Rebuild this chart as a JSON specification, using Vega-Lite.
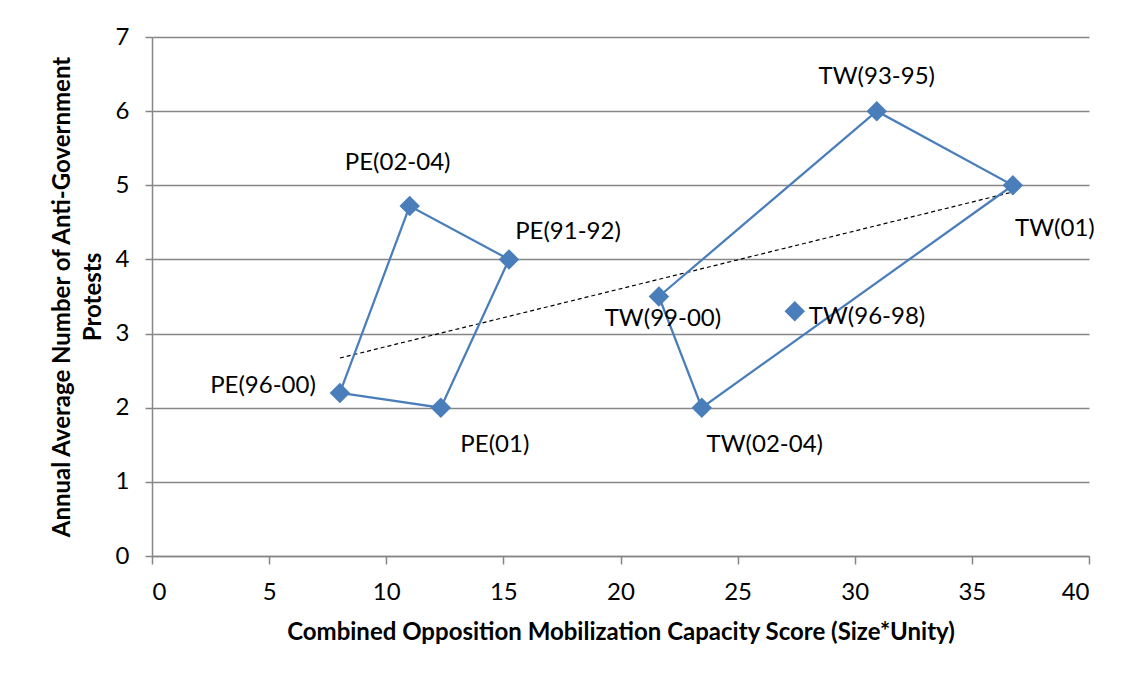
{
  "$schema": "https://vega.github.io/schema/vega-lite/v6.json",
  "autosize": "none",
  "width": 937,
  "height": 519,
  "padding": {"left": 152, "top": 37, "right": 32, "bottom": 121},
  "background": "white",
  "config": {
    "font": "Lato",
    "view": {"stroke": null},
    "axis": {
      "domainColor": "#868686",
      "tickColor": "#868686",
      "gridColor": "#868686",
      "labelColor": "#000000",
      "titleColor": "#000000",
      "labelFont": "Lato",
      "titleFont": "Lato",
      "labelFontSize": 24,
      "titleFontSize": 24,
      "titleFontWeight": "bold",
      "labelFontWeight": "normal"
    }
  },
  "datasets": {
    "points": [
      {"label": "PE(91-92)", "country": "PE", "x": 15.24, "y": 4.0},
      {"label": "PE(96-00)", "country": "PE", "x": 8.02, "y": 2.2},
      {"label": "PE(01)", "country": "PE", "x": 12.33, "y": 2.0},
      {"label": "PE(02-04)", "country": "PE", "x": 11.0, "y": 4.72},
      {"label": "TW(93-95)", "country": "TW", "x": 30.94, "y": 6.0},
      {"label": "TW(96-98)", "country": "TW", "x": 27.44, "y": 3.3},
      {"label": "TW(99-00)", "country": "TW", "x": 21.64, "y": 3.5},
      {"label": "TW(01)", "country": "TW", "x": 36.75, "y": 5.0},
      {"label": "TW(02-04)", "country": "TW", "x": 23.47, "y": 2.0}
    ],
    "paths": [
      {"country": "PE", "step": 1, "x": 8.02, "y": 2.2},
      {"country": "PE", "step": 2, "x": 11.0, "y": 4.72},
      {"country": "PE", "step": 3, "x": 15.24, "y": 4.0},
      {"country": "PE", "step": 4, "x": 12.33, "y": 2.0},
      {"country": "PE", "step": 5, "x": 8.02, "y": 2.2},
      {"country": "TW", "step": 1, "x": 21.64, "y": 3.5},
      {"country": "TW", "step": 2, "x": 30.94, "y": 6.0},
      {"country": "TW", "step": 3, "x": 36.75, "y": 5.0},
      {"country": "TW", "step": 4, "x": 23.47, "y": 2.0},
      {"country": "TW", "step": 5, "x": 21.64, "y": 3.5}
    ],
    "trend": [
      {"x": 8.02, "y": 2.67},
      {"x": 36.75, "y": 4.91}
    ]
  },
  "encoding": {
    "x": {
      "field": "x", "type": "quantitative",
      "scale": {"domain": [0, 40], "nice": false, "zero": false},
      "axis": {
        "title": "Combined Opposition Mobilization Capacity Score (Size*Unity)",
        "values": [0, 5, 10, 15, 20, 25, 30, 35, 40],
        "grid": false, "tickSize": 8, "labelPadding": 16, "titlePadding": 16,
        "domainWidth": 1.5, "tickWidth": 1.5
      }
    },
    "y": {
      "field": "y", "type": "quantitative",
      "scale": {"domain": [0, 7], "nice": false},
      "axis": {
        "title": ["Annual Average Number of Anti-Government", "Protests"],
        "titleLineHeight": 31,
        "values": [0, 1, 2, 3, 4, 5, 6, 7],
        "grid": true, "gridWidth": 1.5, "tickSize": 7, "labelPadding": 16, "titlePadding": 10,
        "domainWidth": 1.5, "tickWidth": 1.5
      }
    }
  },
  "layer": [
    {
      "data": {"name": "trend"},
      "mark": {"type": "line", "color": "#000000", "strokeWidth": 1.2, "strokeDash": [4, 3]},
      "encoding": {}
    },
    {
      "data": {"name": "paths"},
      "mark": {"type": "line", "color": "#4a7ebb", "strokeWidth": 2.25},
      "encoding": {
        "detail": {"field": "country"},
        "order": {"field": "step", "type": "quantitative"}
      }
    },
    {
      "data": {"name": "points"},
      "mark": {"type": "point", "shape": "diamond", "filled": true, "size": 420, "color": "#4a7ebb", "opacity": 1},
      "encoding": {}
    },
    {
      "data": {"name": "points"},
      "transform": [{"filter": "datum.label == 'PE(02-04)'"}],
      "mark": {"type": "text", "fontSize": 24, "dx": -12, "dy": -43},
      "encoding": {"text": {"field": "label"}}
    },
    {
      "data": {"name": "points"},
      "transform": [{"filter": "datum.label == 'PE(91-92)'"}],
      "mark": {"type": "text", "fontSize": 24, "dx": 59, "dy": -27},
      "encoding": {"text": {"field": "label"}}
    },
    {
      "data": {"name": "points"},
      "transform": [{"filter": "datum.label == 'PE(01)'"}],
      "mark": {"type": "text", "fontSize": 24, "dx": 54, "dy": 37},
      "encoding": {"text": {"field": "label"}}
    },
    {
      "data": {"name": "points"},
      "transform": [{"filter": "datum.label == 'PE(96-00)'"}],
      "mark": {"type": "text", "fontSize": 24, "align": "right", "dx": -24, "dy": -7},
      "encoding": {"text": {"field": "label"}}
    },
    {
      "data": {"name": "points"},
      "transform": [{"filter": "datum.label == 'TW(93-95)'"}],
      "mark": {"type": "text", "fontSize": 24, "dx": 0, "dy": -34},
      "encoding": {"text": {"field": "label"}}
    },
    {
      "data": {"name": "points"},
      "transform": [{"filter": "datum.label == 'TW(01)'"}],
      "mark": {"type": "text", "fontSize": 24, "dx": 42, "dy": 44},
      "encoding": {"text": {"field": "label"}}
    },
    {
      "data": {"name": "points"},
      "transform": [{"filter": "datum.label == 'TW(99-00)'"}],
      "mark": {"type": "text", "fontSize": 24, "dx": 4, "dy": 22},
      "encoding": {"text": {"field": "label"}}
    },
    {
      "data": {"name": "points"},
      "transform": [{"filter": "datum.label == 'TW(96-98)'"}],
      "mark": {"type": "text", "fontSize": 24, "align": "left", "dx": 14, "dy": 6},
      "encoding": {"text": {"field": "label"}}
    },
    {
      "data": {"name": "points"},
      "transform": [{"filter": "datum.label == 'TW(02-04)'"}],
      "mark": {"type": "text", "fontSize": 24, "dx": 63, "dy": 37},
      "encoding": {"text": {"field": "label"}}
    }
  ]
}
